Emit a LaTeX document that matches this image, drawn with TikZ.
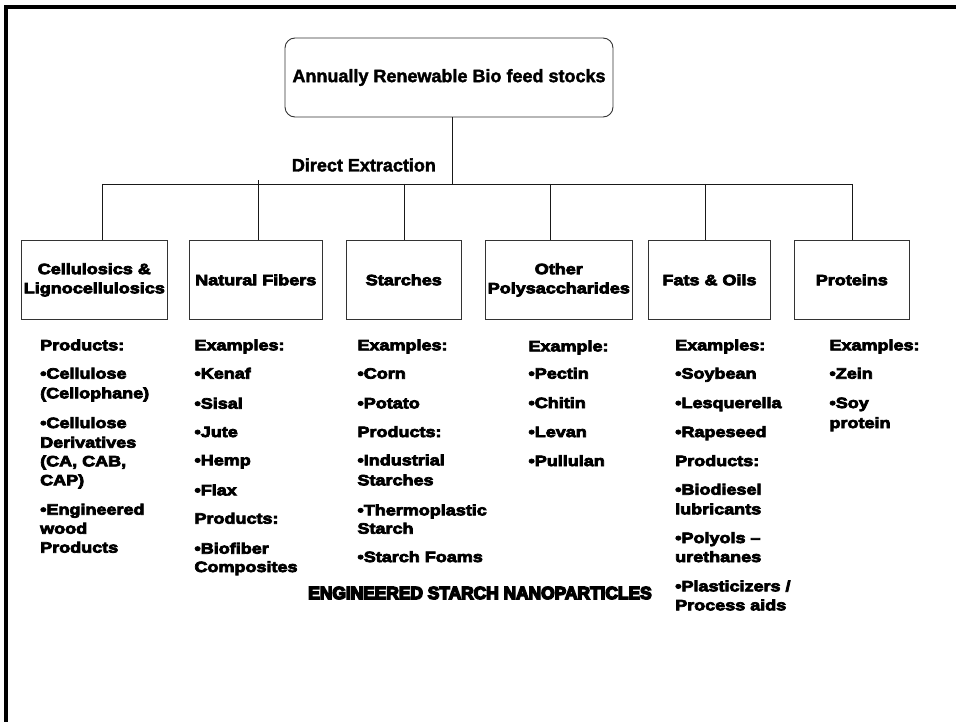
\documentclass[tikz,border=0pt]{standalone}
\usepackage{fontspec}
\setmainfont{Liberation Sans}
\newfontface\titlefont[FakeBold=2]{Liberation Sans Bold}
\newfontface\heavyfont[FakeStretch=1.2,FakeBold=5]{Liberation Sans Bold}
\newfontface\nanofont[FakeStretch=0.98,FakeBold=8]{Liberation Sans Bold}
\tikzset{
  conn/.style={draw=black!90, line width=0.9pt},
  catbox/.style={draw=black!80, line width=0.9pt, align=center, inner sep=0pt,
    font=\heavyfont\fontsize{15}{19.2}\selectfont},
  lst/.style={anchor=west, inner sep=0pt, text height=10.7pt, text depth=0pt,
    font=\heavyfont\fontsize{15}{18}\selectfont},
  ttl/.style={inner sep=0pt, font=\titlefont\fontsize{18}{21}\selectfont},
}
\begin{document}
\begin{tikzpicture}[x=1pt,y=-1pt]
\useasboundingbox (0,0) rectangle (956,722);
% frame
\draw[line width=3.4pt] (6,722) -- (6,7) -- (956,7);
% top box
\node[draw=black!80, line width=0.9pt, rounded corners=10pt, minimum width=328pt,
  minimum height=79pt, ttl] (top) at (449,77.5) {Annually Renewable Bio feed stocks};
\node[ttl, anchor=west] (dext) at (291.7,165) {Direct Extraction};
% bar coordinates
\coordinate (bar) at (452.7,184);
\coordinate (d1) at (102.3,184);
\coordinate (d2) at (258.3,184);
\coordinate (t2) at (258.3,180.5);
\coordinate (d3) at (404,184);
\coordinate (d4) at (550.7,184);
\coordinate (d5) at (705.3,184);
\coordinate (d6) at (852,184);
% category boxes
\node[catbox, minimum width=146.7pt, minimum height=78.3pt] (b1) at (94.3,279.9) {Cellulosics \&\\Lignocellulosics};
\node[catbox, minimum width=133pt, minimum height=78.3pt] (b2) at (255.8,279.9) {Natural Fibers};
\node[catbox, minimum width=114.3pt, minimum height=78.3pt] (b3) at (403.8,279.9) {Starches};
\node[catbox, minimum width=147pt, minimum height=78.3pt] (b4) at (558.8,279.9) {Other\\Polysaccharides};
\node[catbox, minimum width=122.4pt, minimum height=78.3pt] (b5) at (709.5,279.9) {Fats \& Oils};
\node[catbox, minimum width=115pt, minimum height=78.3pt] (b6) at (851.8,279.9) {Proteins};
% connectors
\draw[conn] (top.south -| bar) -- (bar);
\draw[conn] (d1) -- (d6);
\draw[conn] (d1) -- (d1 |- b1.north);
\draw[conn] (t2) -- (t2 |- b2.north);
\draw[conn] (d3) -- (d3 |- b3.north);
\draw[conn] (d4) -- (d4 |- b4.north);
\draw[conn] (d5) -- (d5 |- b5.north);
\draw[conn] (d6) -- (d6 |- b6.north);
% column 1
\foreach \t/\y [count=\i] in {Products:/345, •Cellulose/373.3, (Cellophane)/393, •Cellulose/422.7,
  Derivatives/442.3, {(CA, CAB,}/461, CAP)/480, •Engineered/509.3, wood/528.3, Products/547.3}
  \node[lst] (c1-\i) at (40,\y) {\t};
% column 2
\foreach \t/\y [count=\i] in {Examples:/345, •Kenaf/373.3, •Sisal/403.3, •Jute/431.7, •Hemp/460,
  •Flax/490, Products:/518.3, •Biofiber/548.3, Composites/566.7}
  \node[lst] (c2-\i) at (194.3,\y) {\t};
% column 3
\foreach \t/\y [count=\i] in {Examples:/345, •Corn/373.3, •Potato/403, Products:/431.7,
  •Industrial/460, Starches/480, •Thermoplastic/510, Starch/528.3, •Starch Foams/556.7}
  \node[lst] (c3-\i) at (357.3,\y) {\t};
% column 4
\foreach \t/\y [count=\i] in {Example:/346, •Pectin/373.3, •Chitin/402.7, •Levan/431.7, •Pullulan/460.7}
  \node[lst] (c4-\i) at (528.3,\y) {\t};
% column 5
\foreach \t/\y [count=\i] in {Examples:/345, •Soybean/373.3, •Lesquerella/402.7, •Rapeseed/431.7,
  Products:/460.7, •Biodiesel/489.3, lubricants/509, •Polyols –/537.7, urethanes/556.7,
  {•Plasticizers /}/586, Process aids/605}
  \node[lst] (c5-\i) at (675,\y) {\t};
% column 6
\foreach \t/\y [count=\i] in {Examples:/345, •Zein/373.3, •Soy/402.7, protein/422.7}
  \node[lst] (c6-\i) at (829.3,\y) {\t};
% nanoparticles label
\node[inner sep=0pt, font=\nanofont\fontsize{17.7}{20}\selectfont] (nano) at (480,593) {ENGINEERED STARCH NANOPARTICLES};
\end{tikzpicture}
\end{document}
